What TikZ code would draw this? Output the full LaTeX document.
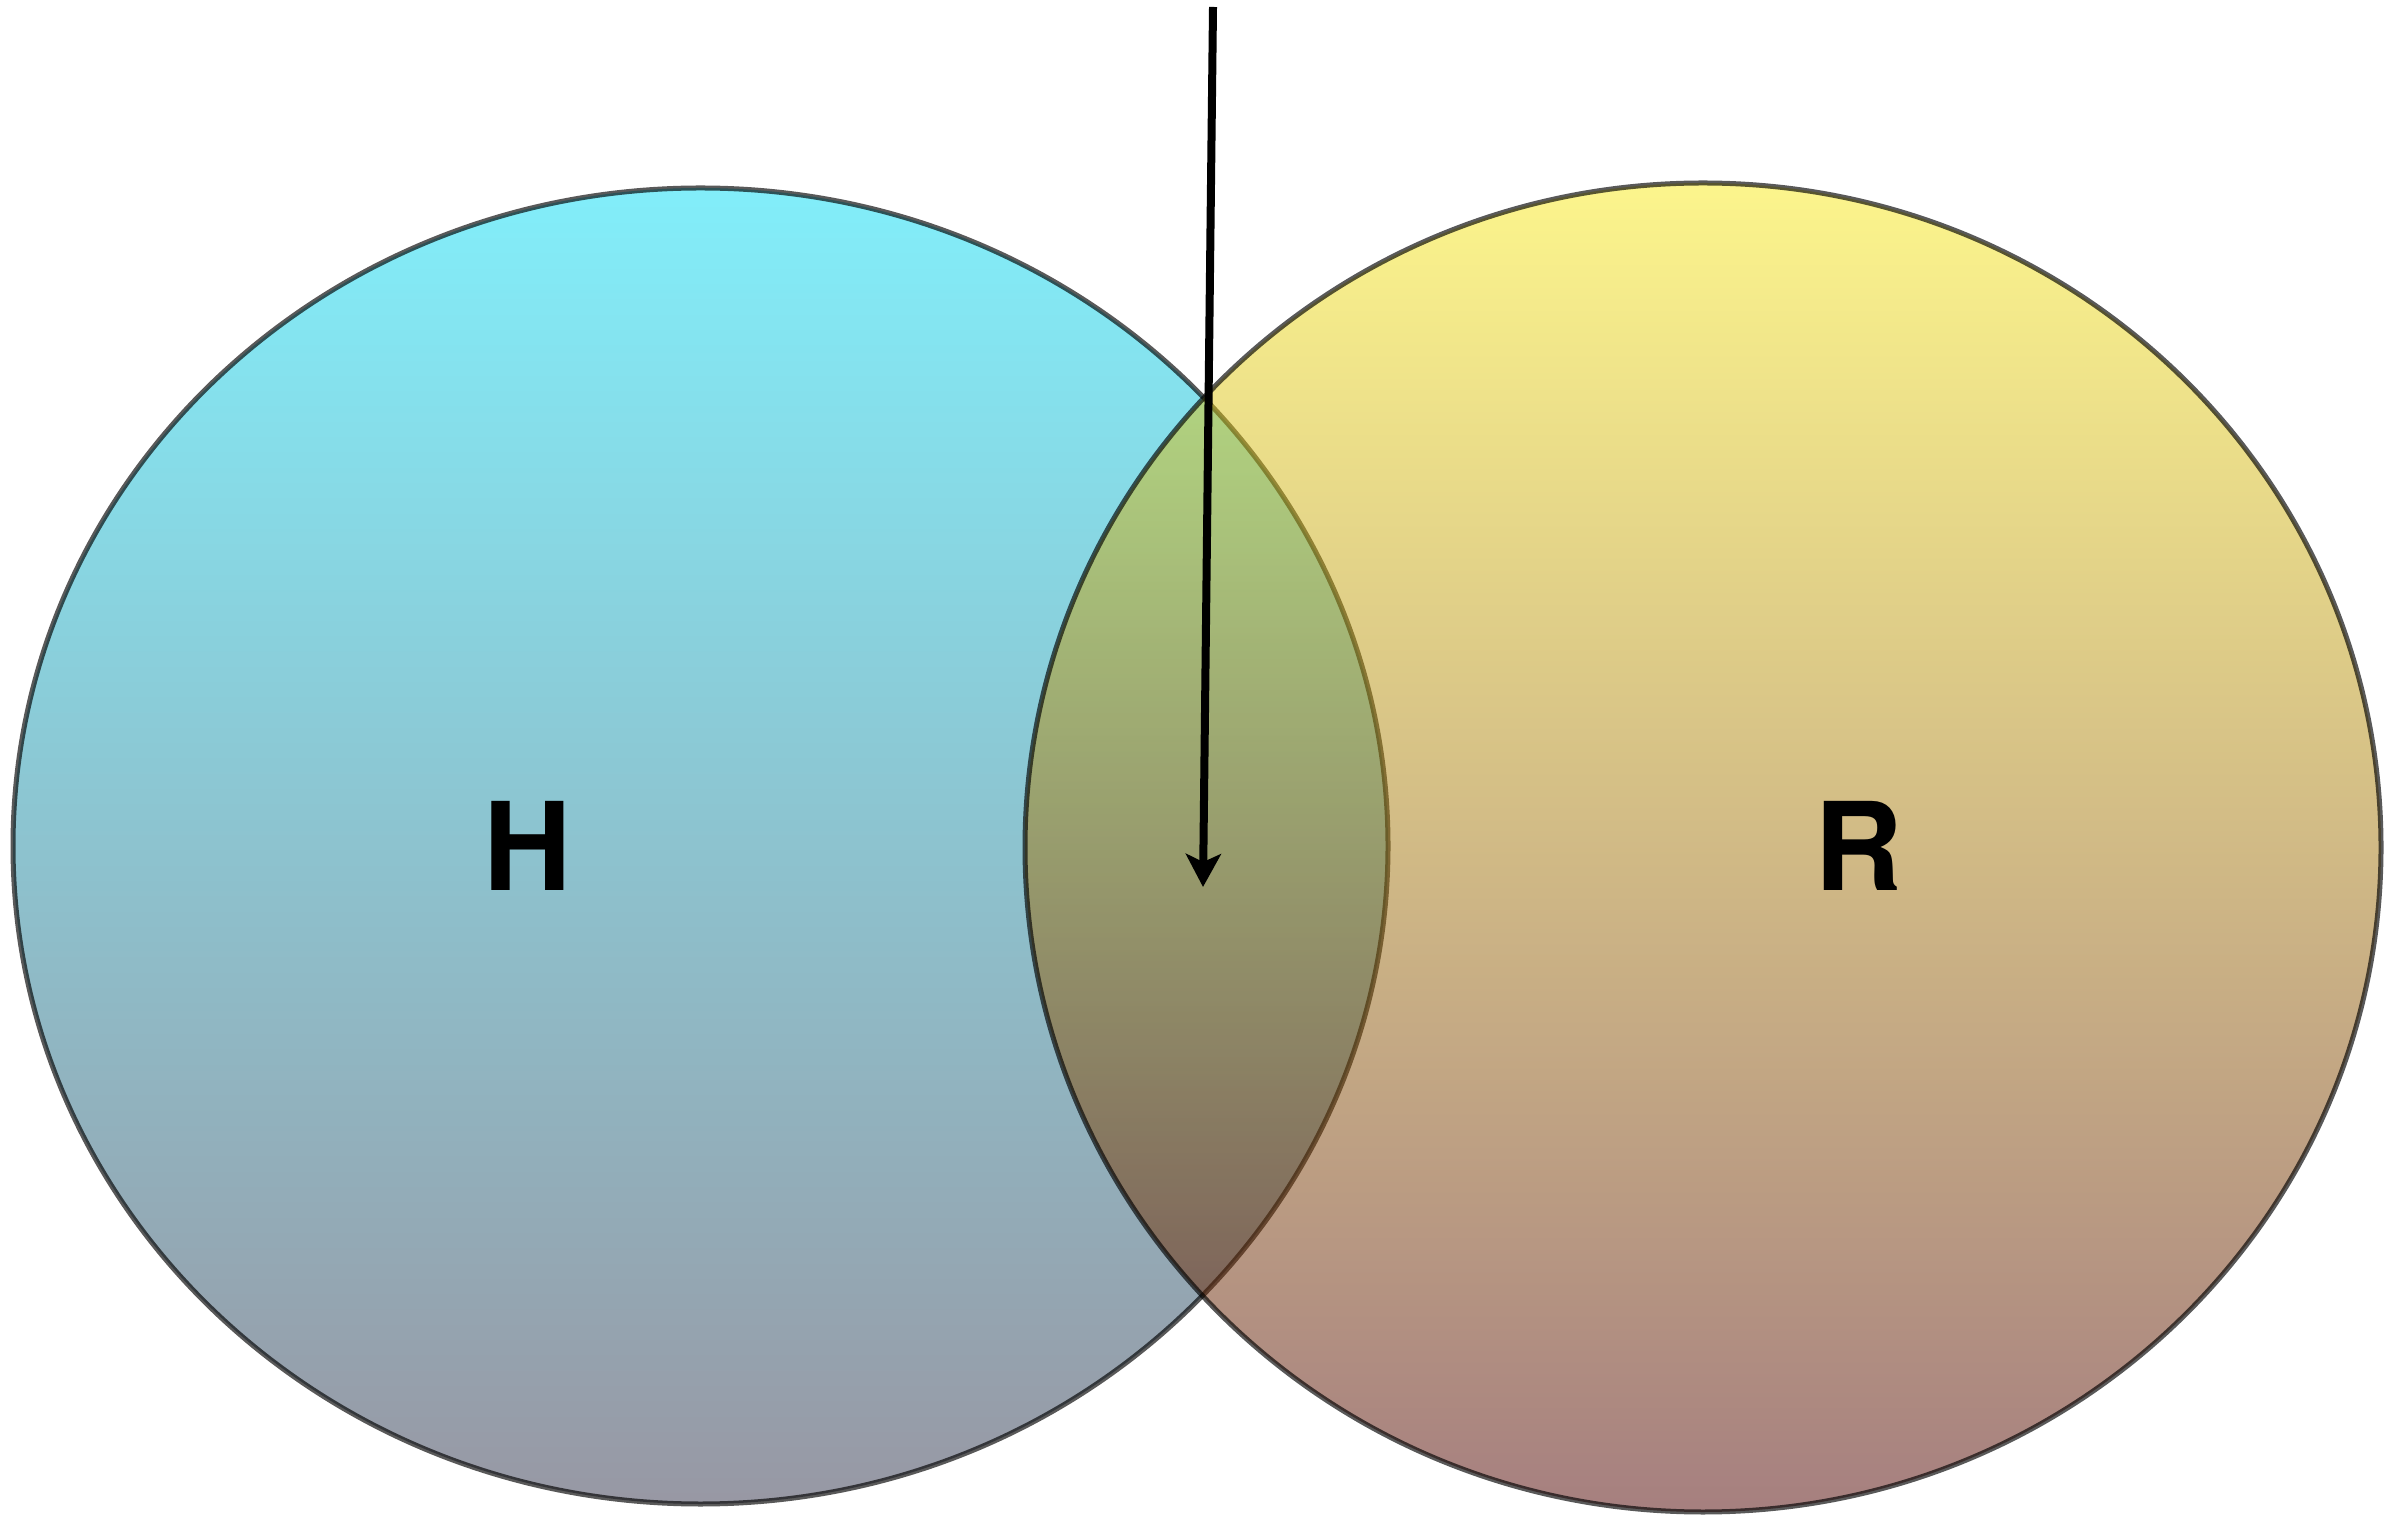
\documentclass[tikz,border=0pt]{standalone}
\usepackage{fontspec}
\setsansfont{TeX Gyre Heros}
\usepackage{tikz}
\usetikzlibrary{shapes.geometric, arrows.meta, positioning}

\definecolor{htop}{RGB}{5,221,245}
\definecolor{hbottom}{RGB}{49,49,73}
\definecolor{rtop}{RGB}{249,235,25}
\definecolor{rbottom}{RGB}{77,0,0}

\begin{document}
\begin{tikzpicture}[
        setshape/.style={ellipse, draw=black, draw opacity=0.65, line width=0.05cm, fill opacity=0.5, inner sep=0pt},
        setlabel/.style={font=\sffamily\bfseries\fontsize{34.8}{40}\selectfont, inner sep=0pt},
        arrow/.style={-{Stealth[length=0.33cm, width=0.35cm, inset=0.08cm]}, line width=0.08cm}
    ]
        \useasboundingbox (0,0) rectangle (24.02,15.18);
        \node[setshape, top color=htop, bottom color=hbottom, minimum width=13.75cm, minimum height=13.16cm] (hset) at (7.005,6.72) {};
        \node[setshape, top color=rtop, bottom color=rbottom, minimum width=13.56cm, minimum height=13.29cm] (rset) at (17.03,6.705) {};
        \node[setlabel] (hlabel) at (5.28,6.725) {H};
        \node[setlabel] (rlabel) at (18.59,6.725) {R};

        \coordinate (source) at (12.13,15.11);
        \coordinate (lens) at (12.03,6.31);
        \draw[arrow] (source) -- (lens);
    \end{tikzpicture}
\end{document}
